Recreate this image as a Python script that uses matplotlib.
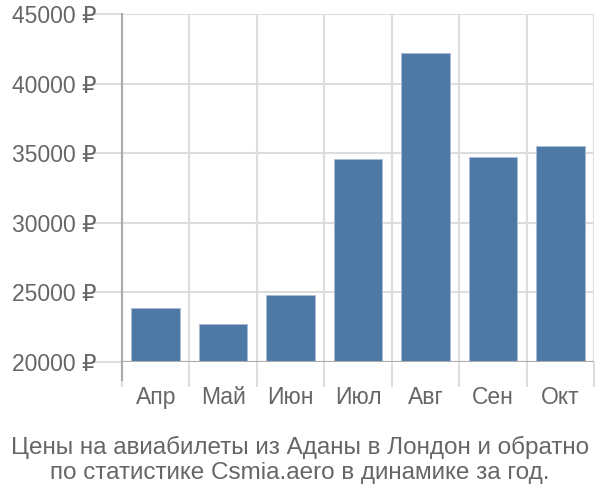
import matplotlib
matplotlib.use('Agg')
import matplotlib.pyplot as plt

plt.rcParams['font.family'] = ['Liberation Sans', 'DejaVu Sans']

months = ['Апр', 'Май', 'Июн', 'Июл', 'Авг', 'Сен', 'Окт']
prices = [23900, 22700, 24800, 34600, 42200, 34700, 35500]
yticks = [20000, 25000, 30000, 35000, 40000, 45000]
caption = 'Цены на авиабилеты из Аданы в Лондон и обратно\nпо статистике Csmia.aero в динамике за год.'

fig = plt.figure(figsize=(6, 5), dpi=100)
ax = fig.add_axes([0.2033, 0.276, 0.787, 0.696])

base = 20000
x = list(range(len(months)))
ax.bar(x, [p - base for p in prices], bottom=base, width=0.72,
       color='#4e79a7', edgecolor='#a9bcd3', linewidth=0.6, zorder=3)

ax.set_ylim(20000, 45000)
ax.set_xlim(-0.5, len(months) - 0.5)

ax.set_yticks(yticks)
ax.set_yticklabels([f'{v} ₽' for v in yticks])
ax.set_xticks([i - 0.5 for i in range(len(months) + 1)], minor=False)
ax.set_xticklabels([])
ax.set_xticks(x, minor=True)
ax.set_xticklabels(months, minor=True)

ax.tick_params(axis='y', length=20, color='#dddddd', width=1.5, labelsize=16.5,
               labelcolor='#666666', pad=-2)
ax.tick_params(axis='x', which='major', length=18, color='#dddddd', width=1.5)
ax.tick_params(axis='x', which='minor', length=0, labelsize=16.5,
               labelcolor='#666666', pad=17)

ax.grid(True, which='major', color='#dddddd', linewidth=1.5, zorder=0)
for s in ['top', 'right', 'bottom']:
    ax.spines[s].set_visible(False)
ax.spines['left'].set_color('#aaaaaa')
ax.spines['left'].set_linewidth(1.5)
ax.axhline(20000, color='#aaaaaa', linewidth=1.5, zorder=4)
# left spine extends down like the tick marks
ax.plot([-0.5, -0.5], [20000, 18700], color='#aaaaaa', linewidth=1.5, clip_on=False, zorder=4)

fig.text(0.5, 0.08, caption, ha='center', va='center', fontsize=17.5,
         color='#666666', linespacing=1.2)

fig.savefig('out.png', dpi=100)
